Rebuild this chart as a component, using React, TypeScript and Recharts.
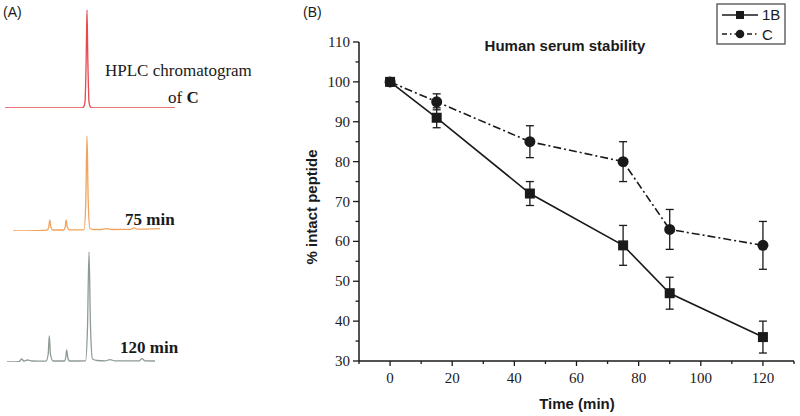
import { LineChart, Line, XAxis, YAxis, ErrorBar } from 'recharts'

// panel B: serum stability
const times = [0, 15, 45, 75, 90, 120]
const intact1B = [100, 91, 72, 59, 47, 36]
const sd1B = [0, 2.5, 3, 5, 4, 4]
const intactC = [100, 95, 85, 80, 63, 59]
const sdC = [0, 2, 4, 5, 5, 6]

const xTicks = [-10, 0, 10, 20, 30, 40, 50, 60, 70, 80, 90, 100, 110, 120, 130]
const yTicks = [30, 35, 40, 45, 50, 55, 60, 65, 70, 75, 80, 85, 90, 95, 100, 105, 110]

// panel A: HPLC traces, [retention time, relative intensity]
const traceC: [number, number][] = [
  [0.5, 0], [8.1, 0], [8.35, 1], [8.5, 6], [8.62, 50], [8.7, 98], [8.78, 50],
  [8.9, 6], [9.05, 1], [9.3, 0], [17.5, 0],
]
const trace75: [number, number][] = [
  [1.3, 0], [3.5, 0.3], [4.7, 0.8], [4.88, 4], [4.98, 11], [5.08, 4], [5.3, 1],
  [6.35, 1], [6.52, 4], [6.62, 11], [6.72, 4], [6.95, 1.2], [8.4, 1.2], [8.58, 30],
  [8.7, 95], [8.82, 30], [9.0, 2.5], [9.4, 1.5], [10.0, 1.4], [10.7, 2.4], [11.2, 1.5],
  [13.1, 1.6], [13.4, 3.2], [13.7, 1.8], [16.0, 2.4],
]
const trace120: [number, number][] = [
  [0.7, 0], [1.9, 0.3], [2.15, 3], [2.4, 1], [2.75, 2], [3.2, 1], [4.6, 0.8],
  [4.82, 8], [4.93, 26], [5.04, 8], [5.3, 1], [6.45, 1], [6.58, 5], [6.67, 12],
  [6.77, 5], [6.95, 1], [8.55, 1.2], [8.75, 35], [8.9, 110], [9.05, 35], [9.25, 3],
  [9.7, 1.5], [10.5, 1.2], [11.0, 2.3], [11.5, 1.2], [13.9, 1.2], [14.2, 3.3],
  [14.5, 1.2], [15.5, 1],
]

const ink = '#1a1a1a'
const serif = '"Liberation Serif", "Times New Roman", serif'
const sans = '"Liberation Sans", Arial, sans-serif'

function Trace({ points, color, top }: { points: [number, number][]; color: string; top: number }) {
  const data = points.map(([t, v]) => ({ t, v }))
  return (
    <div style={{ position: 'absolute', left: 0, top }}>
      <LineChart width={200} height={116} data={data} margin={{ top: 0, right: 0, bottom: 4, left: 0 }}>
        <XAxis type="number" dataKey="t" domain={[0, 20]} hide />
        <YAxis type="number" domain={[0, 112]} hide allowDataOverflow />
        <Line type="monotone" dataKey="v" stroke={color} strokeWidth={1.3} dot={false} isAnimationActive={false} />
      </LineChart>
    </div>
  )
}

function XTick(p: any) {
  const v = p.payload.value
  const major = v % 20 === 0
  return (
    <g>
      <line x1={p.x} x2={p.x} y1={p.y} y2={p.y + (major ? 5 : 3)} stroke={ink} strokeWidth={1.3} />
      {major && (
        <text x={p.x} y={p.y + 22} textAnchor="middle" fontFamily={serif} fontSize={15} fill={ink}>{v}</text>
      )}
    </g>
  )
}

function YTick(p: any) {
  const v = p.payload.value
  const major = v % 10 === 0
  return (
    <g>
      <line x1={p.x - (major ? 6 : 3.5)} x2={p.x} y1={p.y} y2={p.y} stroke={ink} strokeWidth={1.3} />
      {major && (
        <text x={p.x - 9} y={p.y + 5} textAnchor="end" fontFamily={serif} fontSize={15} fill={ink}>{v}</text>
      )}
    </g>
  )
}

function StabilityChart() {
  const data = times.map((t, i) => ({ t, b: intact1B[i], bErr: sd1B[i], c: intactC[i], cErr: sdC[i] }))
  return (
    <LineChart width={800} height={416} data={data} margin={{ top: 42, right: 6, bottom: 15, left: 319 }}>
      <XAxis
        type="number" dataKey="t" domain={[-10, 130]} ticks={xTicks} interval={0} height={40}
        tickSize={0} tickMargin={0} tickLine={false} tick={(p: any) => <XTick {...p} />}
        axisLine={{ stroke: ink, strokeWidth: 1.5 }}
      />
      <YAxis
        type="number" domain={[30, 110]} ticks={yTicks} interval={0} width={40}
        tickSize={0} tickMargin={0} tickLine={false} tick={(p: any) => <YTick {...p} />}
        axisLine={{ stroke: ink, strokeWidth: 1.5 }}
      />
      <Line
        type="linear" dataKey="c" stroke={ink} strokeWidth={1.6} strokeDasharray="8 3 2 3"
        isAnimationActive={false}
        dot={(p: any) => <circle key={`c${p.index}`} cx={p.cx} cy={p.cy} r={5.5} fill={ink} />}
      >
        <ErrorBar dataKey="cErr" direction="y" width={4} stroke={ink} strokeWidth={1.3} />
      </Line>
      <Line
        type="linear" dataKey="b" stroke={ink} strokeWidth={1.6}
        isAnimationActive={false}
        dot={(p: any) => <rect key={`b${p.index}`} x={p.cx - 5} y={p.cy - 5} width={10} height={10} fill={ink} />}
      >
        <ErrorBar dataKey="bErr" direction="y" width={4} stroke={ink} strokeWidth={1.3} />
      </Line>
    </LineChart>
  )
}

export default function App() {
  return (
    <div style={{ position: 'absolute', left: 0, top: 0, width: 800, height: 416, background: '#fff', overflow: 'hidden' }}>
      <Trace points={traceC} color="#e5484d" top={-4} />
      <Trace points={trace75} color="#f2a25f" top={119} />
      <Trace points={trace120} color="#8e9b92" top={250} />
      <div style={{ position: 'absolute', left: 0, top: 0 }}>
        <StabilityChart />
      </div>
      <svg width={800} height={416} style={{ position: 'absolute', left: 0, top: 0, pointerEvents: 'none' }}>
        <text x={3} y={17} fontFamily={sans} fontSize={14} fill={ink}>(A)</text>
        <text x={303} y={17} fontFamily={sans} fontSize={14} fill={ink}>(B)</text>
        <text x={105} y={76} fontFamily={serif} fontSize={17} fill={ink}>HPLC chromatogram</text>
        <text x={168} y={103} fontFamily={serif} fontSize={17} fill={ink}>
          of <tspan fontWeight="bold">C</tspan>
        </text>
        <text x={125} y={225} fontFamily={serif} fontSize={17} fontWeight="bold" fill={ink}>75 min</text>
        <text x={120} y={353} fontFamily={serif} fontSize={17} fontWeight="bold" fill={ink}>120 min</text>
        <text x={565} y={51} textAnchor="middle" fontFamily={sans} fontSize={15} fontWeight="bold" fill={ink}>Human serum stability</text>
        <text x={577} y={409} textAnchor="middle" fontFamily={sans} fontSize={15} fontWeight="bold" fill={ink}>Time (min)</text>
        <text x={317} y={207} transform="rotate(-90 317 207)" textAnchor="middle" fontFamily={sans} fontSize={15} fontWeight="bold" fill={ink}>% intact peptide</text>
        <rect x={717} y={4} width={68} height={40} fill="#fff" stroke="#666" strokeWidth={1.5} />
        <line x1={722} x2={758} y1={15} y2={15} stroke={ink} strokeWidth={1.6} />
        <rect x={736} y={11} width={8} height={8} fill={ink} />
        <text x={762} y={20} fontFamily={sans} fontSize={15} fill={ink}>1B</text>
        <line x1={722} x2={758} y1={34} y2={34} stroke={ink} strokeWidth={1.6} strokeDasharray="5 3 1.5 3" />
        <circle cx={740} cy={34} r={4.3} fill={ink} />
        <text x={762} y={39.5} fontFamily={sans} fontSize={15} fill={ink}>C</text>
      </svg>
    </div>
  )
}
